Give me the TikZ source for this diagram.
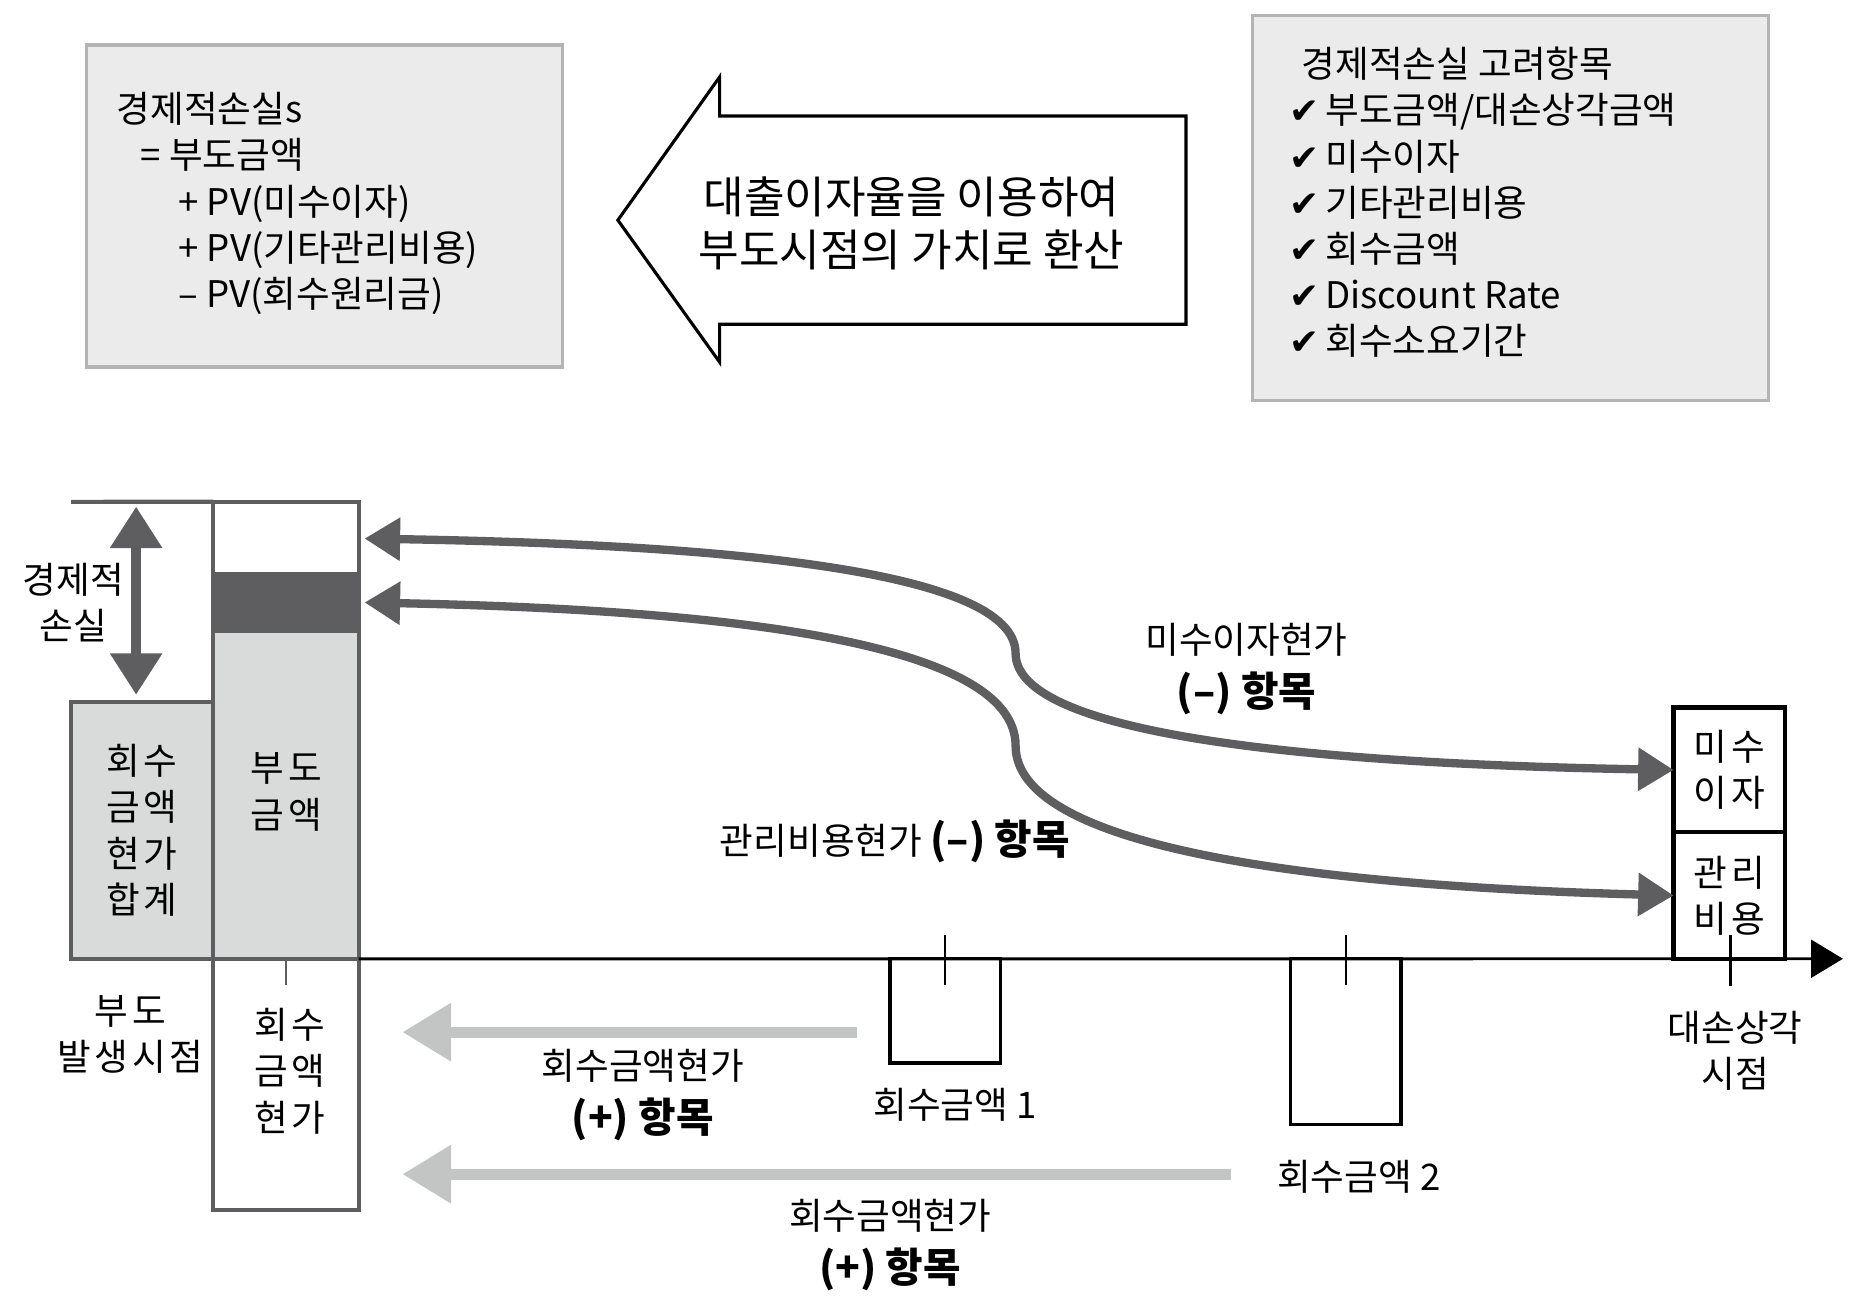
\documentclass[tikz,border=0pt]{standalone}
\usepackage{fontspec}
\setmainfont{Noto Sans CJK KR}
\newfontfamily\symbolfont{DejaVu Sans}
\usetikzlibrary{arrows.meta}

\definecolor{panelfill}{HTML}{EBEBEB}
\definecolor{panelline}{HTML}{B4B4B4}
\definecolor{barfill}{HTML}{D9DADA}
\definecolor{bardark}{HTML}{5E5D5F}
\definecolor{inflowgray}{HTML}{C3C4C4}

\newcommand\kgap{\hspace{.1em}}
\newcommand\chk{{\symbolfont\fontsize{8.6}{8}\selectfont ✔}\hspace{.15em}}
\newcommand\heavy[1]{{\fontsize{9.8}{12.8}\selectfont\bfseries #1}}

\begin{document}
\begin{tikzpicture}[x=.01cm,y=-.01cm,
  panel/.style={draw=panelline,fill=panelfill,line width=.8pt,inner sep=0pt},
  listing/.style={align=left,inner sep=0pt,font=\fontsize{8.8}{11.1}\selectfont},
  column/.style={draw=bardark,line width=1pt,inner sep=0pt,outer sep=0pt},
  period/.style={draw=black,line width=1.1pt,inner sep=0pt,outer sep=0pt,align=center,
    minimum width=.94cm,font=\fontsize{8.8}{11.1}\selectfont},
  payment/.style={draw=black,line width=.8pt,inner sep=0pt,outer sep=0pt,minimum width=.93cm},
  note/.style={align=center,inner sep=0pt,font=\fontsize{8.8}{11.1}\selectfont},
  remark/.style={note,font=\fontsize{8.8}{12.8}\selectfont},
  outflow/.style={draw=bardark,line width=2pt,
    {Triangle[length=.3cm,width=.35cm]}-{Triangle[length=.3cm,width=.35cm]}},
  inflow/.style={draw=inflowgray,line width=2.6pt,-{Triangle[length=.41cm,width=.47cm]}},
  lossspan/.style={draw=bardark,line width=2.4pt,
    {Triangle[length=.35cm,width=.42cm]}-{Triangle[length=.35cm,width=.42cm]}},
  timeline/.style={line width=.7pt,-{Triangle[length=.27cm,width=.32cm]}},
  timetick/.style={line width=.6pt}
]
\useasboundingbox (0,0) rectangle (1568,1107);

% upper row: formula, conversion arrow, checklist
\node[panel,minimum width=4.02cm,minimum height=2.72cm] (formula) at (274,174) {};
\node[listing,anchor=west] (formula-text) at (98,172)
  {경제적손실s\\\hspace*{.2cm}= 부도금액\\\hspace*{.52cm}+ PV(미수이자)\\
   \hspace*{.52cm}+ PV(기타관리비용)\\\hspace*{.52cm}– PV(회수원리금)};

\draw[line width=.75pt,fill=white] (1002,98) -- (608,98) -- (608,65) -- (522,186)
  -- (608,306) -- (608,274) -- (1002,274) -- cycle;
\node[align=center,inner sep=0pt,font=\fontsize{10.6}{12.8}\selectfont] (discount) at (770,189)
  {대출이자율을 이용하여\\부도시점의 가치로 환산};

\node[panel,minimum width=4.36cm,minimum height=3.25cm] (factors) at (1276,175.5) {};
\node[listing,anchor=west] (factors-text) at (1089,171)
  {\hspace*{.1cm}경제적손실 고려항목\\\chk 부도금액/대손상각금액\\\chk 미수이자\\
   \chk 기타관리비용\\\chk 회수금액\\\chk Discount Rate\\\chk 회수소요기간};

% lower part: bars on the time line
\node[column,fill=barfill,minimum width=1.2cm,minimum height=2.17cm,align=center,
  font=\fontsize{8.8}{11.1}\selectfont] (recovered) at (120,701.5)
  {회\kgap{}수\\금\kgap{}액\\현\kgap{}가\\합\kgap{}계};
\fill[barfill] (180,535) rectangle (303,810);
\fill[bardark] (180,483) rectangle (303,535);
\node[column,minimum width=1.23cm,minimum height=3.86cm] (default) at (241.5,617) {};
\node[note] (default-label) at (242,669) {부\kgap{}도\\금\kgap{}액};
\node[column,minimum width=1.23cm,minimum height=2.12cm] (present) at (241.5,916) {};
\node[note] (present-label) at (245,905) {회\kgap{}수\\금\kgap{}액\\현\kgap{}가};

\coordinate (loss-line) at (60,424);
\coordinate (loss-hi) at (115,428);
\coordinate (loss-lo) at (115,587);
\draw[draw=bardark,line width=1pt] (loss-line) -- (default.north west);
\draw[lossspan] (loss-hi) -- (loss-lo);
\node[note] (loss-label) at (62,509) {경제적\\손실};

\coordinate (timeline-end) at (1557,810);
\draw[timeline] (default.south east) -- (timeline-end);

\node[payment,minimum height=.88cm,anchor=north] (pay-1) at (798.5,810) {};
\node[payment,minimum height=1.4cm,anchor=north] (pay-2) at (1137,810) {};
\node[period,minimum height=1.05cm,anchor=south] (interest) at (1461,703) {미\kgap{}수\\이\kgap{}자};
\node[period,minimum height=1.07cm,anchor=north] (cost) at (1461,703) {관\kgap{}리\\비\kgap{}용};

\draw[timetick,draw=bardark] (present.north) -- ++(0,22);
\draw[timetick] (pay-1.north) ++(0,-20) -- ++(0,42);
\draw[timetick] (pay-2.north) ++(0,-20) -- ++(0,42);
\draw[timetick] (cost.south) ++(1,-20) -- ++(0,43);

\node[note] (default-time) at (110,874) {부\kgap{}도\\발\kgap{}생\kgap{}시\kgap{}점};
\node[note] (writeoff-time) at (1466,888) {대손상각\\시점};
\node[note] (pay-1-label) at (807,933) {회수금액 1};
\node[note] (pay-2-label) at (1148,994) {회수금액 2};

% discounting back to the default date
\coordinate (interest-in) at (308,455);
\coordinate (cost-in) at (308,509);
\draw[outflow] (interest-in) .. controls (600,460) and (858,480) .. (858,552)
  .. controls (858,620) and (1100,645) .. (interest.west);
\draw[outflow] (cost-in) .. controls (600,515) and (858,540) .. (858,630)
  .. controls (858,715) and (1100,748) .. (cost.west);
\node[remark] (interest-note) at (1053,565) {미수이자현가\\\heavy{(–) 항목}};
\node[note] (cost-note) at (756,711) {관리비용현가 \heavy{(–) 항목}};

\coordinate (pay-1-from) at (724,872);
\coordinate (pay-1-to) at (340,872);
\coordinate (pay-2-from) at (1040,992);
\coordinate (pay-2-to) at (340,992);
\draw[inflow] (pay-1-from) -- (pay-1-to);
\draw[inflow] (pay-2-from) -- (pay-2-to);
\node[remark] (pay-1-note) at (543,925) {회수금액현가\\\heavy{(+) 항목}};
\node[remark] (pay-2-note) at (752,1052) {회수금액현가\\\heavy{(+) 항목}};
\end{tikzpicture}
\end{document}
